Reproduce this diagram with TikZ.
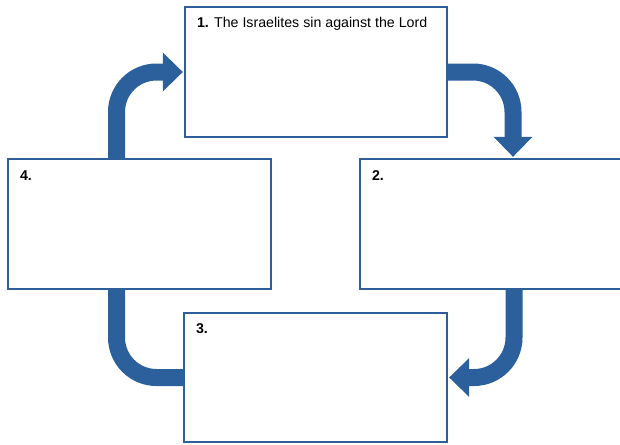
\documentclass[tikz,border=0pt]{standalone}
\usepackage{fontspec}
\setmainfont{Liberation Sans}
\usetikzlibrary{arrows.meta,calc}
\definecolor{boxblue}{RGB}{46,95,153}
\definecolor{arrblue}{RGB}{44,96,156}
\tikzset{
  stagebox/.style={draw=boxblue,line width=2.4pt,fill=white,rectangle,inner sep=0pt,minimum width=262pt,minimum height=130pt},
  lbl/.style={anchor=base west,inner sep=0pt,font=\fontsize{14.2}{16}\selectfont},
  flow/.style={draw=arrblue,line width=17pt,rounded corners=40pt},
  flowtip/.style={flow,-{Triangle[width=39pt,length=20pt,line width=0pt]}}
}
\begin{document}
\begin{tikzpicture}[x=1pt,y=-1pt]
\useasboundingbox (0,0) rectangle (620,444);
\coordinate (c1) at (316,72);
\coordinate (c2) at (491,224);
\coordinate (c3) at (315.5,377.5);
\coordinate (c4) at (139.5,224);
\node[stagebox] (b1) at (c1) {};
\node[stagebox] (b2) at (c2) {};
\node[stagebox,minimum width=263pt,minimum height=129pt] (b3) at (c3) {};
\node[stagebox,minimum width=263pt] (b4) at (c4) {};
\draw[flowtip] (b1.east) -| ([xshift=22pt,yshift=1pt]b2.north);
\draw[flowtip] ([xshift=23pt]b2.south) |- ([xshift=1pt]b3.east);
\draw[flow] (b3.west) -| ([xshift=-23pt]b4.south);
\draw[flowtip] ([xshift=-23pt]b4.north) |- ([xshift=-1pt]b1.west);
\node[lbl] (t1) at ([xshift=13pt,yshift=-22pt]b1.north west) {\textbf{1.} The Israelites sin against the Lord};
\node[lbl] (t2) at ([xshift=13pt,yshift=-23pt]b2.north west) {\textbf{2.}};
\node[lbl] (t3) at ([xshift=13pt,yshift=-22pt]b3.north west) {\textbf{3.}};
\node[lbl] (t4) at ([xshift=13pt,yshift=-23pt]b4.north west) {\textbf{4.}};
\end{tikzpicture}
\end{document}
